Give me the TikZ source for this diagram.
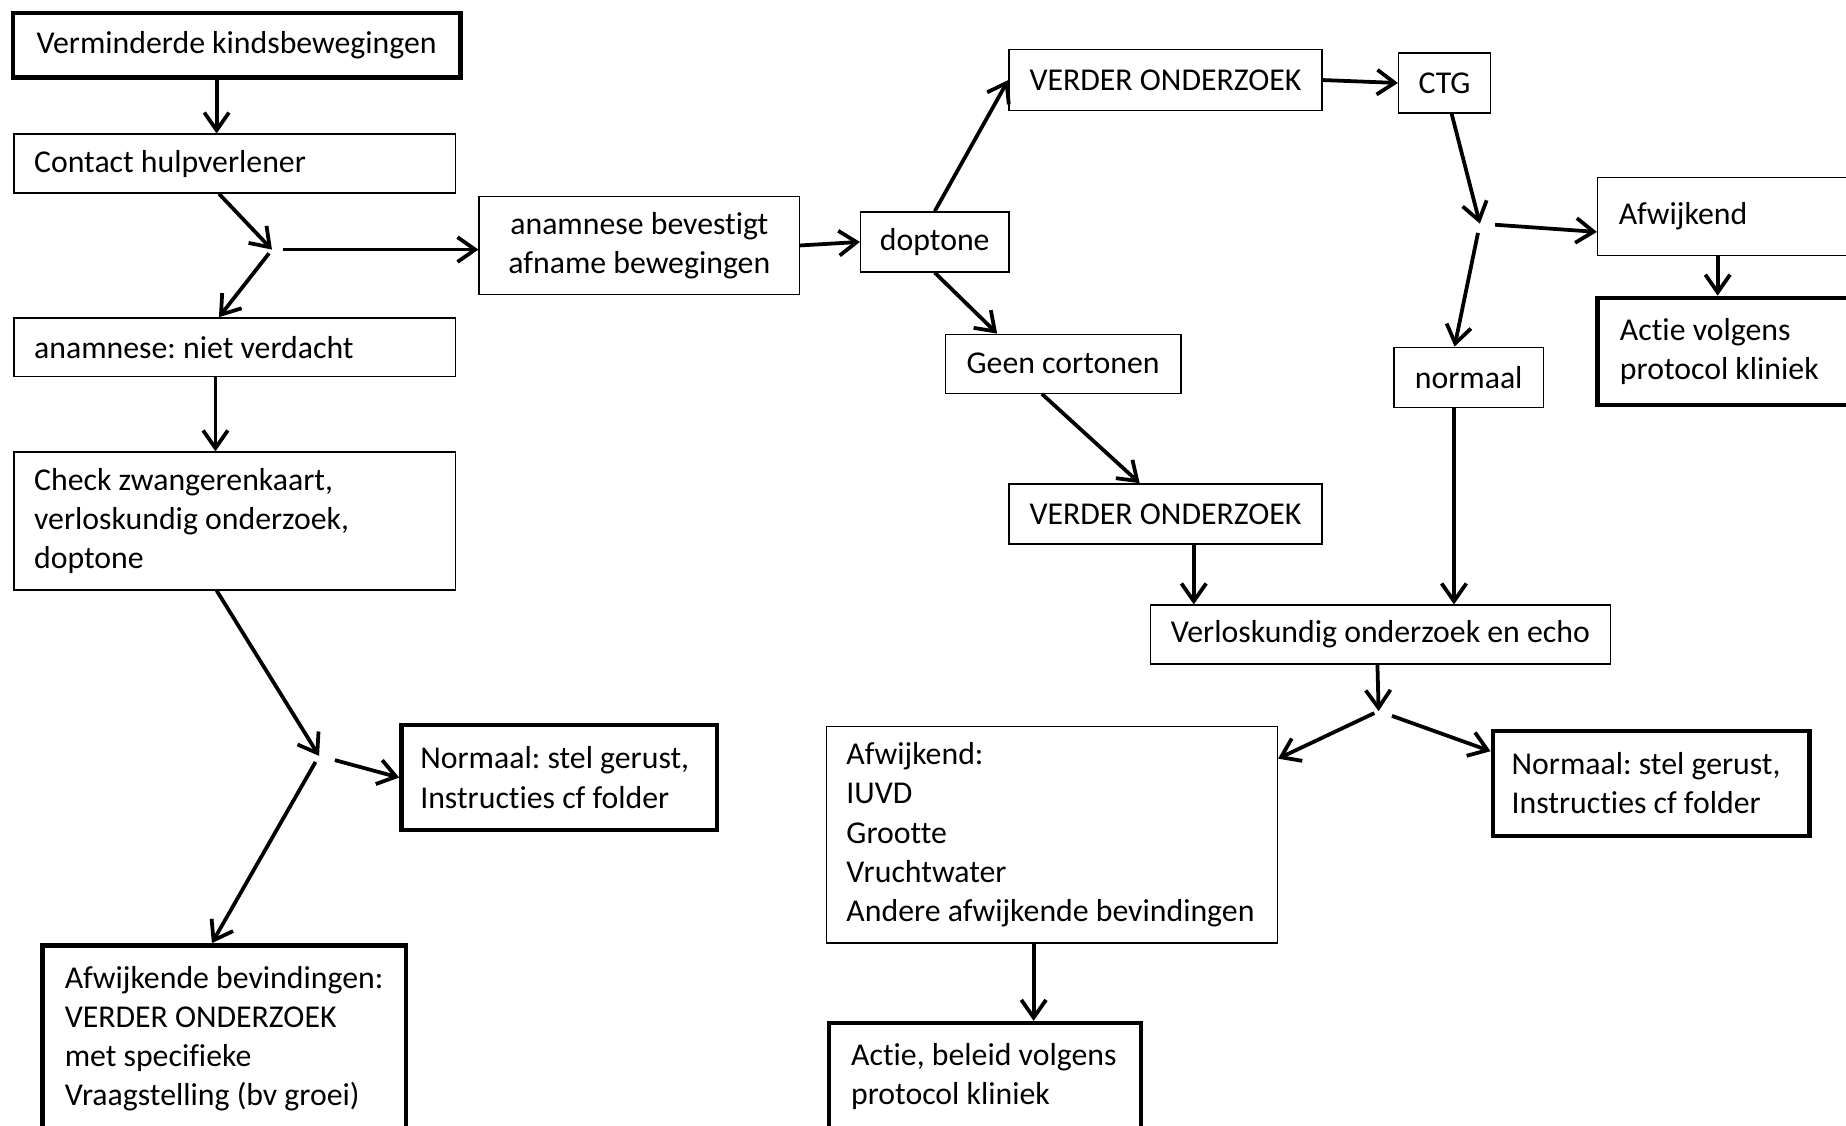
\documentclass[tikz,border=0pt]{standalone}
\usepackage{fontspec}
\setmainfont{Carlito}[Ligatures={CommonOff,ContextualOff},Contextuals=AlternateOff]
\usetikzlibrary{arrows.meta}
\frenchspacing

\begin{document}
\begin{tikzpicture}[
  x=0.5pt, y=-0.5pt,
  box/.style={draw,line width=0.6pt,inner sep=0pt,align=flush center,font=\fontsize{13.5}{16.6}\selectfont},
  sbox/.style={box,line width=1.9pt},
  lbox/.style={box,align=flush left,inner xsep=8.5pt},
  slbox/.style={lbox,line width=1.9pt,inner xsep=9.5pt},
  conn/.style={line width=1.6pt,-{Straight Barb[length=7.5pt,width=10.5pt]}}
]
  \fill[white] (0,0) rectangle (1568,956);
  \useasboundingbox (0,0) rectangle (1568,956);

  % left column
  \node[sbox,minimum width=190pt,minimum height=27.5pt] (verm) at (201,38.5) {Verminderde kindsbewegingen};
  \node[lbox,minimum width=187.5pt,text width=170.5pt,minimum height=25pt] (contact) at (199.5,139) {Contact hulpverlener};
  \node[box,minimum width=136pt,minimum height=41.5pt] (anbev) at (543,208.5) {anamnese bevestigt\\afname bewegingen};
  \node[lbox,minimum width=187.5pt,text width=170.5pt,minimum height=25pt] (nietv) at (199.5,295) {anamnese: niet verdacht};
  \node[lbox,minimum width=187.5pt,text width=170.5pt,minimum height=58.5pt] (check) at (199.5,442.5) {Check zwangerenkaart,\\verloskundig onderzoek,\\doptone};
  \node[slbox,inner xsep=8pt,minimum width=134pt,text width=118pt,minimum height=44.5pt] (norm1) at (475,660.5) {Normaal: stel gerust,\\Instructies cf folder};
  \node[slbox,minimum width=154.5pt,text width=135.5pt,minimum height=79pt] (afwb) at (190.5,882) {Afwijkende bevindingen:\\VERDER ONDERZOEK\\met specifieke\\Vraagstelling (bv groei)};

  % right part
  \node[box,minimum width=63pt,minimum height=25.5pt] (dop) at (794,205.5) {doptone};
  \node[box,minimum width=133pt,minimum height=26pt] (vo1) at (990,68) {VERDER ONDERZOEK};
  \node[box,minimum width=39pt,minimum height=25.5pt] (ctg) at (1227,70.5) {CTG};
  \node[lbox,inner xsep=9pt,minimum width=111.5pt,text width=93.5pt,minimum height=33pt] (afw1) at (1468.5,184) {Afwijkend};
  \node[slbox,minimum width=111.5pt,text width=92.5pt,minimum height=45.5pt] (actie1) at (1468.5,298.5) {Actie volgens\\protocol kliniek};
  \node[box,minimum width=63.5pt,minimum height=25.5pt] (normaal) at (1247.5,320.5) {normaal};
  \node[box,minimum width=100pt,minimum height=25pt] (geen) at (903,309) {Geen cortonen};
  \node[box,minimum width=133pt,minimum height=25.5pt] (vo2) at (990,436.5) {VERDER ONDERZOEK};
  \node[box,minimum width=195.5pt,minimum height=25pt] (verl) at (1172.5,539) {Verloskundig onderzoek en echo};
  \node[lbox,minimum width=191.5pt,text width=174.5pt,minimum height=92pt] (afw2) at (893.5,709) {Afwijkend:\\IUVD\\Grootte\\Vruchtwater\\Andere afwijkende bevindingen};
  \node[slbox,inner xsep=8pt,minimum width=134.5pt,text width=118.5pt,minimum height=44.5pt] (norm2) at (1402.5,665.5) {Normaal: stel gerust,\\Instructies cf folder};
  \node[slbox,minimum width=132.5pt,text width=113.5pt,minimum height=45.5pt] (actie2) at (836.5,914.5) {Actie, beleid volgens\\protocol kliniek};

  % split points
  \coordinate (br1) at (231,212);
  \coordinate (br2) at (271,642);
  \coordinate (br3) at (1257,190);
  \coordinate (br4) at (1171,604);

  \draw[conn] ([xshift=-8.5pt]verm.south) -- ([xshift=-8.5pt]verm.south |- contact.north);
  \draw[conn] ([xshift=-6.75pt]contact.south) -- (br1);
  \draw[conn,shorten <=2pt] (br1) -- ([xshift=-6.75pt]nietv.north);
  \draw[conn,shorten <=4.5pt] (br1) -- (br1 -| anbev.west);
  \draw[conn] (anbev.east) -- (dop.west);
  \draw[conn] ([xshift=-8.25pt]nietv.south) -- ([xshift=-8.25pt]nietv.south |- check.north);
  \draw[conn] ([xshift=-7.75pt]check.south) -- (br2);
  \draw[conn,shorten <=7pt] (br2) -- (norm1.west);
  \draw[conn,shorten <=3pt] (br2) -- ([xshift=-5.25pt]afwb.north);

  \draw[conn] (dop.north) -- (vo1.west);
  \draw[conn] (dop.south) -- ([xshift=-28pt]geen.north);
  \draw[conn] (vo1.east) -- (ctg.west);
  \draw[conn] ([xshift=3pt]ctg.south) -- (br3);
  \draw[conn,shorten <=6.5pt] (br3) -- ([yshift=-6.5pt]afw1.west);
  \draw[conn,shorten <=4pt] (br3) -- ([xshift=-6pt]normaal.north);
  \draw[conn] ([xshift=-4.75pt]afw1.south) -- ([xshift=-4.75pt]afw1.south |- actie1.north);
  \draw[conn] ([xshift=-9pt]geen.south) -- ([xshift=-11pt]vo2.north);
  \draw[conn] ([xshift=-6.25pt]normaal.south) -- ([xshift=-6.25pt]normaal.south |- verl.north);
  \draw[conn] ([xshift=12pt]vo2.south) -- ([xshift=12pt]vo2.south |- verl.north);
  \draw[conn] ([xshift=-1.25pt]verl.south) -- (br4);
  \draw[conn,shorten <=2pt] (br4) -- ([yshift=-14pt]afw2.north east);
  \draw[conn,shorten <=6pt] (br4) -- ([yshift=-9.5pt]norm2.north west);
  \draw[conn] ([xshift=-7.75pt]afw2.south) -- ([xshift=-7.75pt]afw2.south |- actie2.north);
\end{tikzpicture}
\end{document}
